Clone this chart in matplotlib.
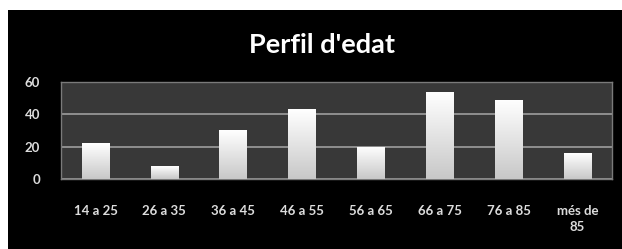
import matplotlib.pyplot as plt
import numpy as np
from matplotlib.patches import Rectangle
from matplotlib.colors import LinearSegmentedColormap

# Data
categories = ['14 a 25', '26 a 35', '36 a 45', '46 a 55', '56 a 65',
              '66 a 75', '76 a 85', 'més de\n85']
values = [22, 8, 30, 43, 20, 54, 49, 16]
yticks = [0, 20, 40, 60]

fig = plt.figure(figsize=(6.22, 2.49), dpi=100)
fig.patch.set_facecolor('white')
# black chart frame (white strip on top and left)
fig.patches.append(Rectangle((8 / 622, 0), 1, 1 - 10 / 249, transform=fig.transFigure,
                             facecolor='black', edgecolor='none', zorder=-10))

ax = fig.add_axes([61 / 622, 1 - 179 / 249, (612 - 61) / 622, (179 - 82) / 249])
ax.set_facecolor('#383838')

x = np.arange(len(categories))
bars = ax.bar(x, values, width=0.4, color='none', edgecolor='none', zorder=3)

# white-to-grey gradient fill for each bar
cmap = LinearSegmentedColormap.from_list('barfill', ['#c8c8c8', '#ffffff'])
grad = np.linspace(0, 1, 100).reshape(-1, 1)
for bar in bars:
    x0, w, h = bar.get_x(), bar.get_width(), bar.get_height()
    im = ax.imshow(grad, extent=[x0, x0 + w, 0, h], origin='lower', cmap=cmap,
                   aspect='auto', zorder=3, interpolation='bicubic')
    im.set_clip_path(bar)

ax.set_xlim(-0.5, len(categories) - 0.5)
ax.set_ylim(0, 60)
ax.set_yticks(yticks)
ax.yaxis.grid(True, color='#8f8f8f', linewidth=1.4, zorder=1)
ax.set_axisbelow(True)

ax.set_xticks(x)
ax.set_xticklabels(categories, fontsize=9.5, fontweight='bold', color='#dcdcdc',
                   family='Lato', linespacing=1.4)
ax.set_yticklabels([str(v) for v in yticks], fontsize=9.5, fontweight='bold',
                   color='#dcdcdc', family='Lato')
ax.tick_params(axis='x', length=0, pad=19)
ax.tick_params(axis='y', length=0, pad=15)
for s in ax.spines.values():
    s.set_color('#7a7a7a')
    s.set_linewidth(1)

fig.text(0.518, 1 - 45 / 249, "Perfil d'edat", ha='center', va='center',
         fontsize=19.5, fontweight='bold', color='white', family='Lato')

fig.savefig('out.png', dpi=100, facecolor=fig.get_facecolor())
